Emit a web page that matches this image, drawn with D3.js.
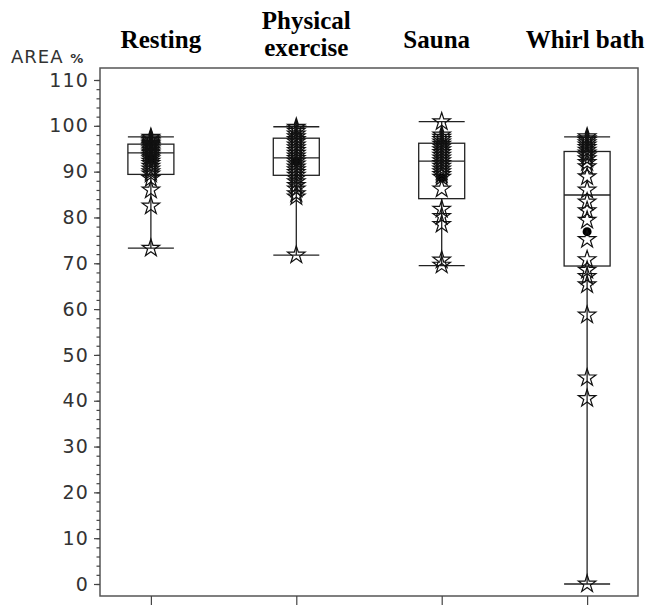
<!DOCTYPE html>
<html>
<head>
<meta charset="utf-8">
<script src="https://cdn.jsdelivr.net/npm/d3@7"></script>
<style>
  body { margin: 0; background: #fff; }
  svg { display: block; }
</style>
</head>
<body>
<svg width="649" height="605"></svg>
<script>
// groups and box summaries
var groups = ["Resting", "Physical exercise", "Sauna", "Whirl bath"];
var titleLines = [["Resting"], ["Physical", "exercise"], ["Sauna"], ["Whirl bath"]];
var whiskLo = [73.3, 71.8, 69.5, 0];
var q1      = [89.4, 89.2, 84.1, 69.4];
var median  = [94.1, 93.0, 92.3, 84.9];
var q3      = [96.0, 97.3, 96.2, 94.4];
var whiskHi = [97.6, 99.8, 100.9, 97.6];
var means   = [92.8, 92.2, 88.6, 76.9];

var resting = [97.5, 97.2, 96.8, 96.5, 96.2, 96.0, 95.7, 95.4, 95.0, 94.7, 94.3, 94.0,
  93.6, 93.2, 92.8, 92.3, 91.8, 91.2, 90.6, 90.0, 89.5, 88.5, 86.0, 82.5, 73.3];
var exercise = [99.7, 99.3, 98.8, 98.2, 97.6, 97.0, 96.5, 95.8, 95.2, 94.6, 94.0, 93.4,
  92.9, 92.3, 91.7, 91.0, 90.4, 89.8, 89.2, 88.5, 87.8, 87.0, 86.2, 85.2, 84.5, 71.8];
var sauna = [100.9, 98.0, 97.5, 97.0, 96.5, 96.0, 95.4, 94.8, 94.2, 93.6, 93.0, 92.4,
  91.8, 91.2, 90.6, 90.0, 89.4, 88.8, 86.2, 81.8, 80.2, 78.5, 70.7, 69.6];
var whirl = [97.6, 97.2, 96.8, 96.3, 95.8, 95.3, 94.7, 94.1, 93.5, 92.8, 92.0, 91.1,
  88.9, 86.0, 83.4, 81.5, 79.4, 75.2, 70.8, 68.5, 67.1, 65.3, 58.7, 45.0, 40.5, 0];
var points = [resting, exercise, sauna, whirl];

var yTicks = d3.range(0, 111, 10);
var yMinor = d3.range(0, 111, 2);

var svg = d3.select("svg");
var plotL = 100, plotR = 638, plotT = 68, plotB = 596;

var x = d3.scalePoint().domain(groups).range([plotL, plotR]).padding(0.35);
var y = d3.scaleLinear().domain([0, 110]).range([584, 80]);
var boxW = 46;

var ink = "#222";

// frame
svg.append("rect")
  .attr("x", plotL).attr("y", plotT)
  .attr("width", plotR - plotL).attr("height", plotB - plotT)
  .attr("fill", "none").attr("stroke", "#555").attr("stroke-width", 1.5);

// y axis: minor then major
var gMinor = svg.append("g").attr("transform", "translate(" + plotL + ",0)")
  .call(d3.axisLeft(y).tickValues(yMinor).tickSize(3.5).tickFormat(""));
var gY = svg.append("g").attr("transform", "translate(" + plotL + ",0)")
  .call(d3.axisLeft(y).tickValues(yTicks).tickSize(6).tickPadding(5));
[gMinor, gY].forEach(function(g) {
  g.select(".domain").remove();
  g.selectAll("line").attr("stroke", "#444").attr("stroke-width", 1.2);
});
gY.selectAll("text")
  .attr("fill", "#333")
  .style("font-family", "'DejaVu Sans', sans-serif")
  .style("font-size", "19px")
  .style("letter-spacing", "1.2px");

// y label
var lab = svg.append("text").attr("x", 11).attr("y", 63)
  .attr("fill", "#333")
  .style("font-family", "'DejaVu Sans', sans-serif")
  .style("font-size", "18px")
  .style("letter-spacing", "1px");
lab.append("tspan").text("AREA ");
lab.append("tspan").style("font-size", "13px").style("font-weight", "bold").text("%");

// x axis ticks (no labels)
var gX = svg.append("g").attr("transform", "translate(0," + plotB + ")")
  .call(d3.axisBottom(x).tickSize(10).tickFormat(""));
gX.select(".domain").remove();
gX.selectAll("line").attr("stroke", "#444").attr("stroke-width", 1.2);

// titles
var titleDx = [10, 10, -5, -2];
groups.forEach(function(gname, i) {
  var lines = titleLines[i];
  var t = svg.append("text")
    .attr("text-anchor", "middle")
    .attr("fill", "#000")
    .style("font-family", "'Liberation Serif', 'Times New Roman', serif")
    .style("font-weight", "bold")
    .style("font-size", "25px");
  lines.forEach(function(s, j) {
    var base = lines.length === 1 ? 48 : 29 + j * 27;
    t.append("tspan").attr("x", x(gname) + titleDx[i]).attr("y", base).text(s);
  });
});

// boxes
var box = svg.selectAll(".box").data(groups).enter().append("g").attr("class", "box");

box.append("line")
  .attr("x1", function(d) { return x(d); }).attr("x2", function(d) { return x(d); })
  .attr("y1", function(d, i) { return y(whiskHi[i]); })
  .attr("y2", function(d, i) { return y(q3[i]); });
box.append("line")
  .attr("x1", function(d) { return x(d); }).attr("x2", function(d) { return x(d); })
  .attr("y1", function(d, i) { return y(q1[i]); })
  .attr("y2", function(d, i) { return y(whiskLo[i]); });
box.append("line")
  .attr("x1", function(d) { return x(d) - boxW / 2; }).attr("x2", function(d) { return x(d) + boxW / 2; })
  .attr("y1", function(d, i) { return y(whiskHi[i]); })
  .attr("y2", function(d, i) { return y(whiskHi[i]); });
box.append("line")
  .attr("x1", function(d) { return x(d) - boxW / 2; }).attr("x2", function(d) { return x(d) + boxW / 2; })
  .attr("y1", function(d, i) { return y(whiskLo[i]); })
  .attr("y2", function(d, i) { return y(whiskLo[i]); });
box.append("rect")
  .attr("x", function(d) { return x(d) - boxW / 2; })
  .attr("y", function(d, i) { return y(q3[i]); })
  .attr("width", boxW)
  .attr("height", function(d, i) { return y(q1[i]) - y(q3[i]); })
  .attr("fill", "none");
box.append("line")
  .attr("x1", function(d) { return x(d) - boxW / 2; }).attr("x2", function(d) { return x(d) + boxW / 2; })
  .attr("y1", function(d, i) { return y(median[i]); })
  .attr("y2", function(d, i) { return y(median[i]); });
box.selectAll("line, rect").attr("stroke", ink).attr("stroke-width", 1.3);

// means
box.append("circle")
  .attr("cx", function(d) { return x(d); })
  .attr("cy", function(d, i) { return y(means[i]); })
  .attr("r", 4.5)
  .attr("fill", "#000");

// stars
var star = d3.symbol().type(d3.symbolStar).size(95);
groups.forEach(function(gname, i) {
  svg.append("g").selectAll("path").data(points[i]).enter().append("path")
    .attr("transform", function(v) { return "translate(" + x(gname) + "," + y(v) + ")"; })
    .attr("d", star)
    .attr("fill", "none")
    .attr("stroke", "#111")
    .attr("stroke-width", 1.2);
});
</script>
</body>
</html>
